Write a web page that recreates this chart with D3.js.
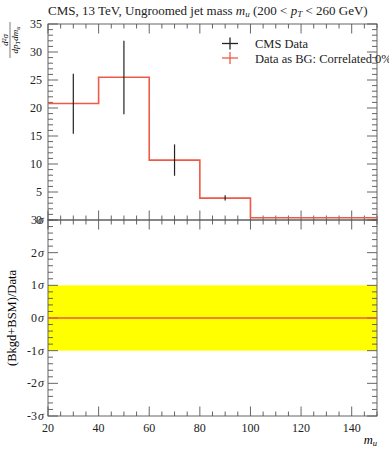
<!DOCTYPE html>
<html>
<head>
<meta charset="utf-8">
<script src="https://cdn.jsdelivr.net/npm/d3@7"></script>
<style>
  body { margin: 0; background: #fff; }
  svg { font-family: "Liberation Serif", "DejaVu Serif", serif; }
</style>
</head>
<body>
<div id="chart"></div>
<script>
// bin edges of the histogram (m_u)
const binEdges = [20, 40, 60, 80, 100, 150]
// "Data as BG: Correlated 0%" histogram
const bgValues = [20.8, 25.5, 10.7, 3.9, 0.4]
// CMS data points
const dataX = [30, 50, 70, 90]
const dataY = [20.8, 25.5, 10.7, 3.9]
const dataLo = [15.4, 18.9, 7.9, 3.5]
const dataHi = [26.1, 32.0, 13.5, 4.4]
// ratio panel
const ratioValues = [0, 0, 0, 0, 0]
const sigmaTicks = [-3, -2, -1, 0, 1, 2, 3]
const mainTicks = [5, 10, 15, 20, 25, 30, 35]
const xTicks = [20, 40, 60, 80, 100, 120, 140]

const width = 389, height = 450
const left = 48, right = 377
const axisColor = '#555'
const red = '#ee5a45'

const svg = d3.select('#chart').append('svg')
  .attr('width', width)
  .attr('height', height)

const x = d3.scaleLinear().domain([20, 150]).range([left, right])
const y = d3.scaleLinear().domain([0, 35]).range([220, 24])
const yr = d3.scaleLinear().domain([-3, 3]).range([416, 220])

// ratio band (+-1 sigma)
svg.append('rect')
  .attr('x', x(20))
  .attr('y', yr(1))
  .attr('width', x(150) - x(20))
  .attr('height', yr(-1) - yr(1))
  .attr('fill', '#ffff00')

// draws a frame with inward ticks on all four sides
function frame(yScale, yMajor, yMinor) {
  const [y0, y1] = yScale.range()
  const g = svg.append('g')
    .attr('stroke', axisColor)
    .attr('stroke-width', 0.9)
    .attr('fill', 'none')
  g.append('rect')
    .attr('x', left).attr('y', y1)
    .attr('width', right - left).attr('height', y0 - y1)

  const xMinor = d3.range(20, 150.1, 5)
  xMinor.forEach(v => {
    const len = v % 20 === 0 ? 9.5 : 4.5
    g.append('line').attr('x1', x(v)).attr('x2', x(v)).attr('y1', y0).attr('y2', y0 - len)
    g.append('line').attr('x1', x(v)).attr('x2', x(v)).attr('y1', y1).attr('y2', y1 + len)
  })
  yMinor.forEach(v => {
    const major = yMajor.some(m => Math.abs(m - v) < 1e-6)
    const len = major ? 10 : 5
    g.append('line').attr('x1', left).attr('x2', left + len).attr('y1', yScale(v)).attr('y2', yScale(v))
    g.append('line').attr('x1', right).attr('x2', right - len).attr('y1', yScale(v)).attr('y2', yScale(v))
  })
}

frame(y, mainTicks, d3.range(0, 35.01, 1))
frame(yr, sigmaTicks, d3.range(-3, 3.01, 0.2))

// histogram as step line
const steps = []
bgValues.forEach((v, i) => {
  steps.push([binEdges[i], v])
  steps.push([binEdges[i + 1], v])
})
const stepLine = d3.line().x(d => x(d[0])).y(d => y(d[1]))
svg.append('path')
  .datum(steps)
  .attr('d', stepLine)
  .attr('fill', 'none')
  .attr('stroke', red)
  .attr('stroke-width', 1.6)

// data error bars
const pts = svg.append('g').attr('stroke', '#222').attr('stroke-width', 1.2)
dataX.forEach((v, i) => {
  pts.append('line')
    .attr('x1', x(v)).attr('x2', x(v))
    .attr('y1', y(dataLo[i])).attr('y2', y(dataHi[i]))
})

// ratio line
const rSteps = []
ratioValues.forEach((v, i) => {
  rSteps.push([binEdges[i], v])
  rSteps.push([binEdges[i + 1], v])
})
svg.append('path')
  .datum(rSteps)
  .attr('d', d3.line().x(d => x(d[0])).y(d => yr(d[1])))
  .attr('fill', 'none')
  .attr('stroke', red)
  .attr('stroke-width', 1.4)

// tick labels
const tl = svg.append('g').attr('font-size', 12).attr('fill', '#222')
mainTicks.forEach(v => {
  tl.append('text').attr('x', left - 6).attr('y', y(v) + 4)
    .attr('text-anchor', 'end').text(v)
})
tl.append('text').attr('x', left - 6).attr('y', y(0) + 4)
  .attr('text-anchor', 'end').text('0')
sigmaTicks.forEach(v => {
  const t = tl.append('text').attr('x', left - 4).attr('y', yr(v) + 4)
    .attr('text-anchor', 'end')
  t.append('tspan').text(v)
  t.append('tspan').attr('font-style', 'italic').attr('dx', 1).text('σ')
})
xTicks.forEach(v => {
  tl.append('text').attr('x', x(v)).attr('y', 432)
    .attr('text-anchor', 'middle').text(v)
})

// axis titles
svg.append('text')
  .attr('x', right).attr('y', 444)
  .attr('text-anchor', 'end')
  .attr('font-size', 12.5)
  .attr('font-style', 'italic')
  .text('m')
  .append('tspan').attr('font-size', 8.5).attr('dy', 2).text('u')

svg.append('text')
  .attr('transform', `translate(16, ${yr(0)}) rotate(-90)`)
  .attr('text-anchor', 'middle')
  .attr('font-size', 12.5)
  .text('(Bkgd+BSM)/Data')

const frac = svg.append('g')
  .attr('transform', 'translate(10, 40) rotate(-90)')
  .attr('font-size', 9)
  .attr('font-style', 'italic')
frac.append('text').attr('x', 0).attr('y', -2.5).attr('text-anchor', 'middle')
  .text('d²σ')
frac.append('line').attr('x1', -18).attr('x2', 18).attr('y1', 0).attr('y2', 0)
  .attr('stroke', '#222').attr('stroke-width', 0.6)
frac.append('text').attr('x', 0).attr('y', 8).attr('text-anchor', 'middle')
  .text('dp')
  .call(t => t.append('tspan').attr('font-size', 6.5).attr('dy', 1.5).text('T'))
  .call(t => t.append('tspan').attr('dy', -1.5).text('dm'))
  .call(t => t.append('tspan').attr('font-size', 6.5).attr('dy', 1.5).text('u'))

// title
const title = svg.append('text')
  .attr('x', left).attr('y', 15)
  .attr('font-size', 13)
  .attr('fill', '#222')
title.append('tspan').text('CMS, 13 TeV, Ungroomed jet mass ')
title.append('tspan').attr('font-style', 'italic').text('m')
title.append('tspan').attr('font-style', 'italic').attr('font-size', 9).attr('dy', 2).text('u')
title.append('tspan').attr('dy', -2).text(' (200 < ')
title.append('tspan').attr('font-style', 'italic').text('p')
title.append('tspan').attr('font-style', 'italic').attr('font-size', 9).attr('dy', 2).text('T')
title.append('tspan').attr('dy', -2).text(' < 260 GeV)')

// legend
const legend = [
  { label: 'CMS Data', color: '#222' },
  { label: 'Data as BG: Correlated 0%', color: red }
]
legend.forEach((d, i) => {
  const ly = 43.5 + i * 14.5
  const g = svg.append('g')
  g.append('line').attr('x1', 222).attr('x2', 238).attr('y1', ly).attr('y2', ly)
    .attr('stroke', d.color).attr('stroke-width', 1.3)
  g.append('line').attr('x1', 230).attr('x2', 230).attr('y1', ly - 6).attr('y2', ly + 6)
    .attr('stroke', d.color).attr('stroke-width', 1.3)
  g.append('text').attr('x', 255).attr('y', ly + 4.5)
    .attr('font-size', 12.5).attr('fill', '#222')
    .text(d.label)
})
</script>
</body>
</html>
